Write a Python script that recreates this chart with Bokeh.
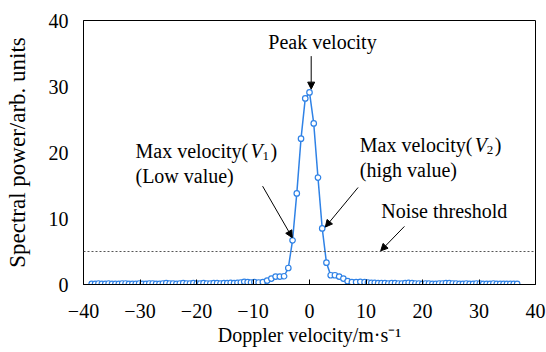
from bokeh.plotting import figure
from bokeh.models import Label, Arrow, NormalHead, Span, FixedTicker, Range1d, ColumnDataSource
from bokeh.embed import file_html
from bokeh.resources import INLINE

# ---- data ----
left_tail_v = [-38.55, -37.95, -37.35, -36.75, -36.15, -35.55, -34.95, -34.35, -33.75, -33.15,
               -32.55, -31.95, -31.35, -30.75, -30.15, -29.55, -28.95, -28.35, -27.75, -27.15,
               -26.55, -25.95, -25.35, -24.75, -24.15, -23.55, -22.95, -22.35, -21.75, -21.15,
               -20.55, -19.95, -19.35, -18.75, -18.15, -17.55, -16.95, -16.35, -15.75, -15.15,
               -14.55, -13.95, -13.35, -12.75, -12.15, -11.55, -10.95, -10.35]
left_tail_p = [0.1, 0.1, 0.15, 0.1, 0.1, 0.15, 0.1, 0.1, 0.1, 0.15,
               0.15, 0.1, 0.1, 0.1, 0.15, 0.1, 0.1, 0.15, 0.15, 0.1,
               0.1, 0.15, 0.2, 0.15, 0.15, 0.1, 0.15, 0.2, 0.15, 0.15,
               0.2, 0.15, 0.15, 0.2, 0.15, 0.15, 0.2, 0.2, 0.15, 0.2,
               0.2, 0.25, 0.2, 0.25, 0.3, 0.4, 0.35, 0.3]
center_v = [-9.75, -9.0, -8.25, -7.5, -6.75, -6.0, -5.25, -4.5, -3.75, -3.0, -2.25, -1.5, -0.75,
            0.0, 0.75, 1.5, 2.25, 3.0, 3.75, 4.5, 5.25, 6.0, 6.75, 7.5, 8.25, 9.0, 9.75]
center_p = [0.35, 0.3, 0.35, 0.6, 0.9, 1.2, 1.2, 1.25, 2.5, 6.7, 13.8, 22.1, 28.2,
            29.1, 24.4, 16.2, 8.5, 3.3, 1.4, 1.4, 1.2, 0.9, 0.5, 0.35, 0.35, 0.4, 0.35]
right_tail_v = [10.35, 10.95, 11.55, 12.15, 12.75, 13.35, 13.95, 14.55, 15.15, 15.75,
                16.35, 16.95, 17.55, 18.15, 18.75, 19.35, 19.95, 20.55, 21.15, 21.75,
                22.35, 22.95, 23.55, 24.15, 24.75, 25.35, 25.95, 26.55, 27.15, 27.75,
                28.35, 28.95, 29.55, 30.15, 30.75, 31.35, 31.95, 32.55, 33.15, 33.75,
                34.35, 34.95, 35.55, 36.15, 36.75]
right_tail_p = [0.3, 0.25, 0.25, 0.2, 0.2, 0.2, 0.15, 0.2, 0.2, 0.15,
                0.15, 0.2, 0.25, 0.2, 0.15, 0.15, 0.1, 0.15, 0.15, 0.1,
                0.1, 0.15, 0.15, 0.2, 0.2, 0.15, 0.15, 0.1, 0.1, 0.15,
                0.1, 0.1, 0.15, 0.15, 0.1, 0.1, 0.1, 0.15, 0.1, 0.1,
                0.1, 0.1, 0.1, 0.1, 0.1]
velocity = left_tail_v + center_v + right_tail_v
power = left_tail_p + center_p + right_tail_p

noise_threshold = 5
x_ticks = [-40, -30, -20, -10, 0, 10, 20, 30, 40]
x_tick_labels = ["\u221240", "\u221230", "\u221220", "\u221210", "0", "10", "20", "30", "40"]
y_ticks = [0, 10, 20, 30, 40]

FONT = "Liberation Serif"
BLUE = "#2f82e6"

p = figure(width=546, height=352, output_backend="svg", toolbar_location=None,
           x_range=Range1d(-40, 40), y_range=Range1d(0, 40),
           min_border_left=83, min_border_right=11, min_border_top=20, min_border_bottom=68)

src = ColumnDataSource(dict(v=velocity, p=power))
p.line("v", "p", source=src, line_color=BLUE, line_width=1.5)
p.scatter("v", "p", source=src, size=5.5, line_color=BLUE, fill_color="white", line_width=1.2)

p.add_layout(Span(location=noise_threshold, dimension="width", line_color="#555555",
                  line_dash="2 2", line_width=1))

p.xgrid.visible = False
p.ygrid.visible = False
p.outline_line_color = "black"
p.outline_line_alpha = 1
p.outline_line_width = 1

p.xaxis.ticker = FixedTicker(ticks=x_ticks)
p.xaxis.major_label_overrides = {t: s for t, s in zip(x_ticks, x_tick_labels)}
p.yaxis.ticker = FixedTicker(ticks=y_ticks)
p.xaxis.axis_label = "Doppler velocity/m\u00b7s\u207b\u00b9"
p.yaxis.axis_label = "Spectral power/arb. units"
for ax in (p.xaxis, p.yaxis):
    ax.axis_line_color = "black"
    ax.major_label_text_font = FONT
    ax.major_label_text_font_size = "20px"
    ax.major_label_text_color = "black"
    ax.axis_label_text_font = FONT
    ax.axis_label_text_font_style = "normal"
    ax.axis_label_text_color = "black"
    ax.minor_tick_line_color = None
p.xaxis.axis_label_text_font_size = "20px"
p.yaxis.axis_label_text_font_size = "23px"
p.xaxis.major_tick_in = 5
p.xaxis.major_tick_out = 0
p.xaxis.major_tick_line_color = "black"
p.xaxis.major_label_standoff = 19
p.xaxis.axis_label_standoff = 3
p.yaxis.major_tick_in = 0
p.yaxis.major_tick_out = 0
p.yaxis.major_label_standoff = 15
p.yaxis.axis_label_standoff = 16


def lab(x, y, text, dx=0, dy=0, size="20px", style="normal", align="left"):
    p.add_layout(Label(x=x, y=y, text=text, x_offset=dx, y_offset=dy + 7,
                       text_font=FONT, text_font_size=size, text_font_style=style,
                       text_color="black", text_align=align, text_baseline="alphabetic"))


# Peak velocity
lab(2.3, 35.7, "Peak velocity", align="center")
# Max velocity V1
lab(-30.8, 19.2, "Max velocity(")
lab(-30.8, 19.2, "V", dx=115, style="italic")
lab(-30.8, 19.2, "1", dx=127, dy=-5, size="13px")
lab(-30.8, 19.2, ")", dx=135)
lab(-30.8, 15.4, "(Low value)")
# Max velocity V2
lab(8.9, 20.1, "Max velocity(")
lab(8.9, 20.1, "V", dx=115, style="italic")
lab(8.9, 20.1, "2", dx=127, dy=-5, size="13px")
lab(8.9, 20.1, ")", dx=135)
lab(8.9, 16.3, "(high value)")
# Noise threshold
lab(12.7, 10.1, "Noise threshold")

arrows = [((0.3, 34.6), (0.3, 29.6)),
          ((-8.3, 14.9), (-3.05, 7.1)),
          ((8.6, 14.7), (2.8, 8.7)),
          ((16.8, 8.8), (12.6, 5.1))]
for (x0, y0), (x1, y1) in arrows:
    p.add_layout(Arrow(x_start=x0, y_start=y0, x_end=x1, y_end=y1,
                       line_color="black", line_width=1,
                       end=NormalHead(size=7, fill_color="black", line_color="black")))

open("out.html", "w").write(file_html(p, INLINE))
